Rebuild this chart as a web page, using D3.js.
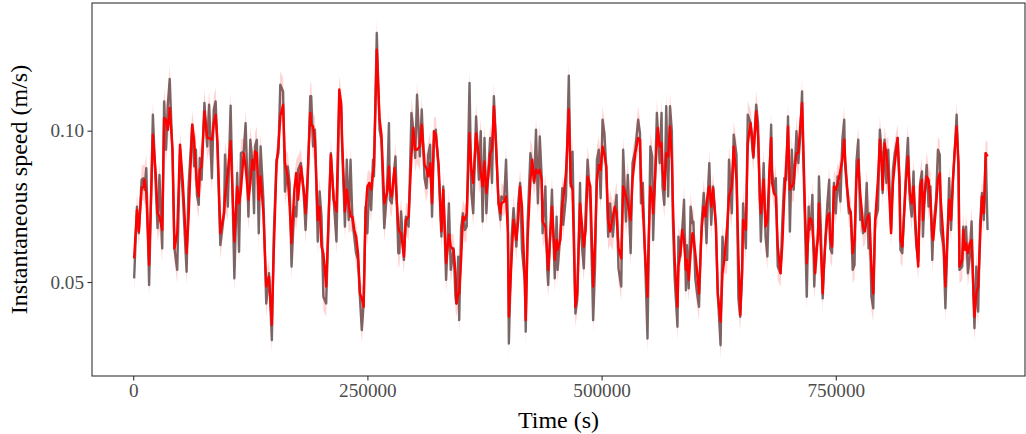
<!DOCTYPE html>
<html><head><meta charset="utf-8">
<script src="https://cdn.jsdelivr.net/npm/d3@7"></script>
<style>body{margin:0;background:#fff}svg{display:block}</style>
</head><body>
<svg id="chart" width="1026" height="434"></svg>
<script>
// time of each observation, in thousands of seconds
const timeKs = [
1,4,6,9,11,12,14,17,21,24,26,28,31,33,35,37,39,42,44,47,50,53,57,59,63,65,67,68,70,71,73,76,79,81,84,86,88,90,93,97,98,101,104,108,111,113,115,118,120,123,125,127,129,
130,132,134,136,139,142,145,148,150,153,155,157,160,162,165,167,169,172,174,176,179,182,184,186,189,190,192,194,197,199,201,203,206,209,211,214,217,220,222,223,226,228,230,232,234,236,238,240,242,244,246,248,250,252,254,256,257,260,263,
265,268,271,273,274,276,279,280,283,284,286,289,291,294,297,299,301,303,306,308,311,313,315,317,319,321,323,326,329,331,334,337,339,342,344,345,347,348,350,352,354,356,359,361,363,366,369,371,373,375,377,379,381,383,385,387,390,392,393,396,398,400,
401,404,406,409,411,413,415,418,419,421,424,426,428,430,432,434,436,437,440,442,443,447,450,452,453,456,458,459,462,465,467,469,472,474,477,478,481,483,485,488,491,493,495,497,499,501,503,505,507,509,512,514,516,518,521,523,526,528,531,533,536,
539,541,542,544,546,549,550,552,554,555,557,559,560,562,564,565,567,569,571,573,575,576,578,581,582,584,586,588,590,591,593,595,597,598,600,602,604,606,607,609,611,612,614,615,617,619,622,624,627,629,631,634,636,639,641,644,646,648,650,651,654,656,659,661,662,665,667,669,670,
673,675,677,679,681,682,684,686,688,691,693,695,697,699,701,703,705,706,708,710,712,714,715,717,719,721,722,724,725,727,728,731,732,734,736,737,739,741,743,744,746,748,750,752,753,755,757,759,760,762,764,766,768,770,772,774,776,778,779,781,783,785,786,788,790,792,795,797,799,800,802,804,806,
809,811,813,816,818,819,821,823,825,827,829,831,833,834,836,838,840,842,843,845,847,849,851,853,854,857,859,861,862,865,867,869,871,873,875,877,879,881,882,885,886,888,889,891,893,895,897,898,900,902,904,906,908,910,912
];
// observed instantaneous speed (m/s), grey line
const speed = [
0.0512,0.0749,0.0661,0.0838,0.0843,0.0805,0.0876,0.0490,0.1053,0.0821,0.0678,0.0854,0.0611,0.1097,0.0937,0.1086,0.1171,0.0915,0.0611,0.0540,0.0937,0.0783,0.0534,0.0810,0.1020,0.0882,0.0937,0.0788,0.0755,0.0910,0.0838,0.1092,0.0948,0.1086,0.0843,0.1070,0.1097,0.0937,0.0622,0.0727,0.0921,0.0749,0.1083,0.0512,0.0860,0.0600,0.0926,0.0931,0.1025,0.0716,0.0970,0.0904,0.0727,
0.0948,0.0970,0.0661,0.0948,0.0772,0.0429,0.0529,0.0308,0.0650,0.0904,0.0926,0.1152,0.1130,0.0799,0.0882,0.0827,0.0551,0.0749,0.0716,0.0871,0.0893,0.0794,0.0672,0.0805,0.1114,0.1114,0.0948,0.1003,0.0634,0.0799,0.0716,0.0451,0.0429,0.0749,0.0926,0.0772,0.0634,0.1114,0.1081,0.0948,0.0683,0.0904,0.0705,0.0904,0.0705,0.0650,0.0595,0.0573,0.0451,0.0341,0.0429,0.0749,0.0661,0.0827,0.0738,0.0904,0.0849,0.1323,0.1003,
0.0970,0.0678,0.0805,0.1025,0.0772,0.0760,0.0882,0.0915,0.0595,0.0595,0.0733,0.0573,0.0716,0.0683,0.1059,0.1003,0.0910,0.1119,0.0915,0.1070,0.0843,0.0810,0.0921,0.0954,0.0716,0.0970,0.1003,0.0876,0.0650,0.0816,0.0507,0.0760,0.0540,0.0611,0.0451,0.0429,0.0584,0.0374,0.0678,0.0727,0.0672,0.0683,0.1158,0.0794,0.0727,0.1047,0.0838,0.0998,0.0700,0.0976,0.0727,0.0860,0.0976,0.0827,0.1114,0.0981,0.0760,0.0705,0.0783,0.0772,0.0904,0.0705,
0.0297,0.0650,0.0744,0.0617,0.0760,0.0827,0.0606,0.0507,0.0336,0.0694,0.0926,0.0882,0.0827,0.1003,0.0760,0.0981,0.0849,0.0661,0.0816,0.0540,0.0490,0.0805,0.0512,0.0716,0.0540,0.0661,0.0810,0.0689,0.0783,0.1182,0.0816,0.0931,0.0396,0.0440,0.0827,0.0661,0.0545,0.0733,0.0904,0.0760,0.0374,0.0551,0.0904,0.0937,0.0777,0.1036,0.0992,0.0876,0.0650,0.0760,0.0650,0.0733,0.0788,0.0545,0.0485,0.0937,0.0700,0.0854,0.0595,0.0893,0.0937,
0.1036,0.0992,0.0760,0.0827,0.0617,0.0313,0.0529,0.0948,0.0915,0.0639,0.0838,0.1059,0.0998,0.0893,0.1059,0.0816,0.0755,0.1081,0.0783,0.1081,0.0998,0.0716,0.0512,0.0352,0.0650,0.0584,0.0667,0.0772,0.0473,0.0622,0.0479,0.0749,0.0694,0.0700,0.0512,0.0462,0.0418,0.0628,0.0705,0.0794,0.0705,0.0628,0.0827,0.0893,0.0689,0.0816,0.0694,0.0462,0.0291,0.0650,0.0573,0.0573,0.0904,0.0727,0.0987,0.0921,0.0446,0.0385,0.0529,0.0760,0.0611,0.1053,0.1025,0.0937,0.0910,0.1086,0.1025,0.0760,0.0634,
0.0893,0.0650,0.0584,0.0827,0.1020,0.0871,0.0799,0.0843,0.0551,0.0529,0.0705,0.0843,0.0838,0.1047,0.0667,0.0937,0.0805,0.0860,0.0998,0.0893,0.0981,0.1130,0.0937,0.0705,0.0451,0.0749,0.0672,0.0716,0.0788,0.0485,0.0595,0.0639,0.0849,0.0683,0.0446,0.0529,0.0650,0.0760,0.0838,0.0611,0.0595,0.0827,0.0727,0.0849,0.0827,0.0766,0.0970,0.1036,0.0882,0.0805,0.0727,0.0733,0.0540,0.0556,0.0898,0.0970,0.0705,0.0716,0.0661,0.0683,0.0827,0.0611,0.0727,0.0451,0.0413,0.0705,0.0738,0.1003,0.0926,0.0794,0.0970,0.0827,0.0937,
0.0672,0.0871,0.0926,0.0976,0.0816,0.0606,0.0595,0.0738,0.0871,0.0976,0.0772,0.0716,0.0865,0.0727,0.0617,0.0567,0.0827,0.0865,0.0650,0.0794,0.0887,0.0749,0.0816,0.0573,0.0672,0.0772,0.0937,0.0921,0.0672,0.0617,0.0413,0.0617,0.0843,0.0672,0.0827,0.0937,0.1053,0.0860,0.0540,0.0551,0.0683,0.0617,0.0683,0.0529,0.0584,0.0700,0.0446,0.0347,0.0551,0.0402,0.0694,0.0794,0.0705,0.0926,0.0672
];
// smoothed / fitted speed (m/s), red line
const fitted = [
0.0578,0.0738,0.0667,0.0810,0.0816,0.0838,0.0794,0.0556,0.0987,0.0860,0.0727,0.0716,0.0672,0.1042,0.1036,0.1003,0.1075,0.0937,0.0611,0.0661,0.0954,0.0827,0.0595,0.0705,0.1020,0.0970,0.0871,0.0816,0.0783,0.0871,0.0882,0.1064,0.0976,0.0976,0.0970,0.1025,0.1053,0.0959,0.0661,0.0727,0.0783,0.0860,0.0965,0.0634,0.0816,0.0760,0.0805,0.0926,0.0882,0.0772,0.0827,0.0904,0.0871,
0.0932,0.0926,0.0772,0.0849,0.0727,0.0485,0.0518,0.0358,0.0595,0.0893,0.0948,0.1048,0.1086,0.0893,0.0849,0.0749,0.0628,0.0805,0.0860,0.0772,0.0882,0.0805,0.0727,0.0838,0.1059,0.1020,0.1014,0.0970,0.0705,0.0749,0.0617,0.0595,0.0485,0.0749,0.0921,0.0772,0.0733,0.1136,0.1092,0.0970,0.0733,0.0805,0.0760,0.0716,0.0716,0.0672,0.0650,0.0595,0.0462,0.0446,0.0418,0.0727,0.0816,0.0827,0.0805,0.0860,0.0882,0.1268,0.1037,
0.0987,0.0760,0.0794,0.0882,0.0805,0.0783,0.0876,0.0838,0.0683,0.0667,0.0661,0.0584,0.0705,0.0716,0.0915,0.1009,0.0937,0.0937,0.0948,0.1020,0.0887,0.0876,0.0849,0.0893,0.0760,0.0998,0.0987,0.0887,0.0667,0.0805,0.0562,0.0656,0.0617,0.0606,0.0529,0.0429,0.0462,0.0462,0.0573,0.0716,0.0705,0.0727,0.0992,0.0871,0.0827,0.0992,0.0915,0.0860,0.0816,0.0898,0.0794,0.0849,0.0926,0.0937,0.1081,0.0970,0.0760,0.0727,0.0760,0.0766,0.0783,0.0661,
0.0385,0.0584,0.0705,0.0639,0.0705,0.0816,0.0749,0.0507,0.0374,0.0639,0.0838,0.0904,0.0832,0.0871,0.0860,0.0871,0.0838,0.0700,0.0683,0.0584,0.0540,0.0749,0.0573,0.0639,0.0606,0.0639,0.0760,0.0772,0.0860,0.1070,0.0827,0.0805,0.0418,0.0462,0.0760,0.0727,0.0617,0.0672,0.0849,0.0816,0.0485,0.0628,0.0838,0.0887,0.0871,0.0948,0.0921,0.0882,0.0705,0.0667,0.0716,0.0749,0.0727,0.0611,0.0578,0.0816,0.0783,0.0760,0.0705,0.0838,0.0926,
0.0976,0.0970,0.0838,0.0749,0.0617,0.0451,0.0617,0.0816,0.0783,0.0727,0.0838,0.0970,0.1009,0.0948,0.0959,0.0871,0.0805,0.0926,0.0915,0.1014,0.0904,0.0772,0.0573,0.0418,0.0551,0.0595,0.0672,0.0639,0.0540,0.0573,0.0507,0.0595,0.0661,0.0650,0.0595,0.0529,0.0462,0.0617,0.0683,0.0749,0.0716,0.0760,0.0805,0.0816,0.0749,0.0810,0.0683,0.0462,0.0369,0.0529,0.0573,0.0683,0.0783,0.0816,0.0948,0.0838,0.0595,0.0391,0.0540,0.0705,0.0672,0.0959,0.1025,0.0970,0.0915,0.1064,0.0981,0.0772,0.0727,
0.0838,0.0683,0.0705,0.0860,0.0976,0.0827,0.0794,0.0783,0.0617,0.0529,0.0628,0.0783,0.0882,0.1014,0.0805,0.0816,0.0827,0.0871,0.0926,0.0926,0.1014,0.1092,0.0992,0.0749,0.0562,0.0683,0.0711,0.0705,0.0683,0.0584,0.0529,0.0661,0.0760,0.0617,0.0462,0.0529,0.0639,0.0716,0.0727,0.0639,0.0617,0.0816,0.0805,0.0827,0.0838,0.0871,0.0904,0.0970,0.0904,0.0816,0.0749,0.0727,0.0595,0.0639,0.0838,0.0904,0.0794,0.0727,0.0683,0.0667,0.0705,0.0722,0.0705,0.0551,0.0462,0.0705,0.0838,0.0970,0.0882,0.0805,0.0959,0.0926,0.0860,
0.0661,0.0827,0.0893,0.0976,0.0838,0.0639,0.0617,0.0727,0.0838,0.0915,0.0794,0.0760,0.0816,0.0760,0.0639,0.0551,0.0816,0.0838,0.0705,0.0794,0.0849,0.0838,0.0772,0.0650,0.0639,0.0749,0.0838,0.0860,0.0772,0.0639,0.0485,0.0639,0.0772,0.0705,0.0838,0.0937,0.1014,0.0893,0.0551,0.0573,0.0672,0.0606,0.0628,0.0595,0.0628,0.0639,0.0462,0.0385,0.0462,0.0485,0.0639,0.0783,0.0727,0.0926,0.0915
];
// half-width of the uncertainty band around the lines (m/s)
const bandHalfWidth = 0.0045;
const xTickValues = [0, 250000, 500000, 750000];
const yTickValues = [0.05, 0.10];
const xTitle = "Time (s)";
const yTitle = "Instantaneous speed (m/s)";

const n = Math.min(timeKs.length, speed.length, fitted.length);
const rows = d3.range(n).map(i => ({
  t: timeKs[i] * 1000, obs: speed[i], fit: fitted[i]
}));

const L = 92, R = 1025, T = 3, B = 376;
const FONT = "'Liberation Serif','Times New Roman',serif";
const x = d3.scaleLinear().domain([-43980, 951960]).range([L, R]);
const y = d3.scaleLinear().domain([0.01894, 0.14220]).range([B, T]);

const svg = d3.select("#chart");
svg.append("rect").attr("width", 1026).attr("height", 434).attr("fill", "#fff");

svg.append("defs").append("clipPath").attr("id", "clip")
  .append("rect").attr("x", L).attr("y", T).attr("width", R - L).attr("height", B - T);

const g = svg.append("g").attr("clip-path", "url(#clip)");

const lineObs = d3.line().x(d => x(d.t)).y(d => y(d.obs));
g.append("path").datum(rows).attr("d", lineObs)
  .attr("fill", "none").attr("stroke", "#707070").attr("stroke-width", 2.4)
  .attr("stroke-linejoin", "round").attr("stroke-linecap", "butt");

const area = d3.area()
  .x(d => x(d.t))
  .y0(d => y(Math.min(d.obs, d.fit) - bandHalfWidth))
  .y1(d => y(Math.max(d.obs, d.fit) + bandHalfWidth));
g.append("path").datum(rows).attr("d", area)
  .attr("fill", "#ff0000").attr("fill-opacity", 0.17).attr("stroke", "none");

const lineFit = d3.line().x(d => x(d.t)).y(d => y(d.fit));
g.append("path").datum(rows).attr("d", lineFit)
  .attr("fill", "none").attr("stroke", "#ff0000").attr("stroke-width", 2.4)
  .attr("stroke-linejoin", "round").attr("stroke-linecap", "butt");

// panel border
svg.append("rect").attr("x", L).attr("y", T).attr("width", R - L).attr("height", B - T)
  .attr("fill", "none").attr("stroke", "#333333").attr("stroke-width", 1.1);

const xAxis = svg.append("g").attr("transform", `translate(0,${B})`)
  .call(d3.axisBottom(x).tickValues(xTickValues).tickFormat(d3.format("d"))
    .tickSize(4.5).tickPadding(3).tickSizeOuter(0));
const yAxis = svg.append("g").attr("transform", `translate(${L},0)`)
  .call(d3.axisLeft(y).tickValues(yTickValues).tickFormat(d3.format(".2f"))
    .tickSize(4.5).tickPadding(3.5).tickSizeOuter(0));
[xAxis, yAxis].forEach(a => {
  a.select(".domain").remove();
  a.selectAll(".tick line").attr("stroke", "#333333").attr("stroke-width", 1.1);
  a.selectAll(".tick text").attr("fill", "#4d4d4d")
    .style("font-family", FONT).style("font-size", "19.2px");
});

svg.append("text").attr("x", (L + R) / 2).attr("y", 428)
  .attr("text-anchor", "middle").attr("fill", "#000")
  .style("font-family", FONT).style("font-size", "24px").text(xTitle);
svg.append("text").attr("transform", `translate(27,${(T + B) / 2}) rotate(-90)`)
  .attr("text-anchor", "middle").attr("fill", "#000")
  .style("font-family", FONT).style("font-size", "24px").text(yTitle);
</script>
</body></html>
